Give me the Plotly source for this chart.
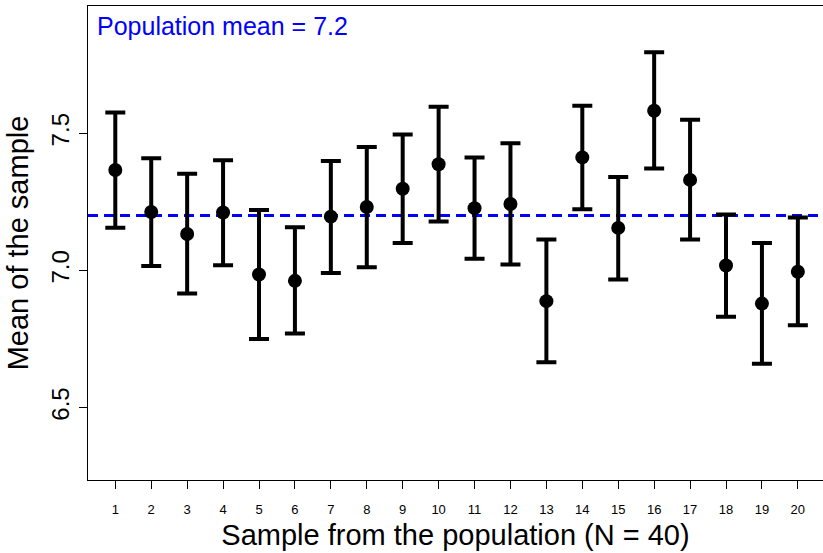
import plotly.graph_objects as go

samples = list(range(1, 21))
means = [7.366, 7.213, 7.133, 7.211, 6.985, 6.962, 7.196, 7.231, 7.298, 7.387,
         7.227, 7.242, 6.888, 7.412, 7.155, 7.582, 7.330, 7.018, 6.879, 6.995]
upper = [7.576, 7.409, 7.352, 7.402, 7.220, 7.157, 7.399, 7.450, 7.496, 7.597,
         7.412, 7.464, 7.113, 7.600, 7.341, 7.795, 7.549, 7.204, 7.100, 7.193]
lower = [7.156, 7.016, 6.916, 7.019, 6.750, 6.770, 6.991, 7.012, 7.100, 7.178,
         7.043, 7.022, 6.665, 7.223, 6.967, 7.372, 7.113, 6.831, 6.660, 6.800]
pop_mean = 7.2
y_ticks = [6.5, 7.0, 7.5]
y_ticktext = ["6.5", "7.0", "7.5"]

err_plus = [u - m for u, m in zip(upper, means)]
err_minus = [m - l for m, l in zip(means, lower)]

FONT = "Liberation Sans, Arial, Helvetica, sans-serif"

fig = go.Figure()
fig.add_trace(go.Scatter(
    x=samples, y=means, mode="markers",
    marker=dict(color="black", size=14, symbol="circle"),
    error_y=dict(type="data", symmetric=False, array=err_plus, arrayminus=err_minus,
                 color="black", thickness=4, width=10),
    showlegend=False,
))

fig.add_shape(type="line", xref="paper", x0=0, x1=1, yref="y", y0=pop_mean, y1=pop_mean,
              line=dict(color="#0000ff", width=3, dash="10px,6px"), layer="below")

fig.add_annotation(text=f"Population mean = {pop_mean}", xref="paper", yref="paper",
                   x=0.009, y=0.958, xanchor="left", yanchor="middle", showarrow=False,
                   font=dict(family=FONT, size=25, color="#0000ff"))

fig.update_layout(
    width=823, height=553,
    margin=dict(l=88, r=0, t=6, b=73, autoexpand=False),
    plot_bgcolor="white", paper_bgcolor="white",
    font=dict(family=FONT, color="black"),
    xaxis=dict(range=[0.24, 20.70], tickmode="array", tickvals=samples,
               ticktext=[str(s) for s in samples], automargin=False,
               tickfont=dict(size=13), ticks="outside", ticklen=8, tickwidth=1,
               ticklabelstandoff=9,
               tickcolor="black", showline=True, linecolor="black", linewidth=1,
               mirror=True, showgrid=False, zeroline=False,
               title=dict(text="Sample from the population (N = 40)",
                          font=dict(size=29), standoff=9)),
    yaxis=dict(range=[6.236, 7.964], tickmode="array", tickvals=y_ticks,
               ticktext=y_ticktext, tickangle=-90, automargin=False,
               tickfont=dict(size=24), ticks="outside", ticklen=8, tickwidth=1,
               tickcolor="black", showline=True, linecolor="black", linewidth=1,
               showgrid=False, zeroline=False,
               title=dict(text="Mean of the sample", font=dict(size=29), standoff=10)),
)

fig.write_html("out.html", config={"displayModeBar": False},
               post_script="document.body.style.margin='0';document.body.style.overflow='hidden';")
